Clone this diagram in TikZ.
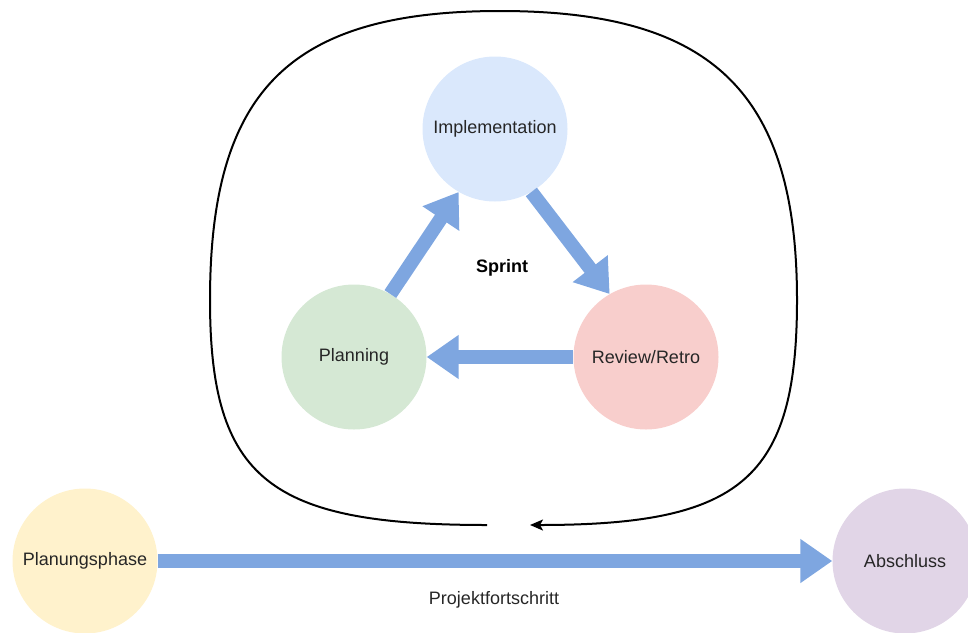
\documentclass[tikz,border=0pt]{standalone}
\usepackage{fontspec}
\setmainfont{Liberation Sans}
\usetikzlibrary{arrows.meta}
\definecolor{implfill}{HTML}{DAE8FC}
\definecolor{planfill}{HTML}{D5E8D4}
\definecolor{revfill}{HTML}{F8CECC}
\definecolor{startfill}{HTML}{FFF2CC}
\definecolor{endfill}{HTML}{E1D5E7}
\definecolor{flow}{HTML}{7EA6E0}
\tikzset{
  labelfont/.style={font=\fontsize{18pt}{21pt}\selectfont},
  phase/.style={circle, minimum size=145pt, inner sep=0pt, draw=none, labelfont, text=black!85},
  blockarrow/.style={draw=flow, line width=14pt, -{Triangle[width=42pt,length=32pt]}, shorten >=0pt, shorten <=0pt},
}
\begin{document}
\begin{tikzpicture}[x=1pt, y=-1pt]
  \useasboundingbox (0,0) rectangle (968,632);

  % sprint loop
  \coordinate (loopstart) at (487,525);
  \coordinate (loopend) at (530,525);
  \draw[line width=2pt, -{Stealth[length=13pt,width=11pt,inset=3pt]}]
    (loopstart) .. controls (270,525) and (210,480) .. (210,300)
    .. controls (210,90) and (290,11) .. (500,11)
    .. controls (710,11) and (797,90) .. (797,300)
    .. controls (797,480) and (740,525) .. (loopend);

  % phases
  \node[phase, fill=implfill] (impl) at (495,129) {Implementation};
  \node[phase, fill=planfill] (plan) at (354,357) {Planning};
  \node[phase, fill=revfill] (rev) at (646,357) {Review/Retro};
  \node[phase, fill=startfill] (start) at (85,561) {Planungsphase};
  \node[phase, fill=endfill] (finish) at (905,561) {Abschluss};

  \node[font=\bfseries\fontsize{18pt}{21pt}\selectfont] (sprint) at (502,268) {Sprint};
  \node[labelfont, text=black!85] (progress) at (494,600) {Projektfortschritt};

  % sprint cycle arrows
  \draw[blockarrow] (plan.60) -- (impl.240);
  \draw[blockarrow] (impl.300) -- (rev.120);
  \draw[blockarrow] (rev.west) -- (plan.east);

  % project progress arrow
  \draw[blockarrow] (start.east) -- (finish.west);
\end{tikzpicture}
\end{document}
